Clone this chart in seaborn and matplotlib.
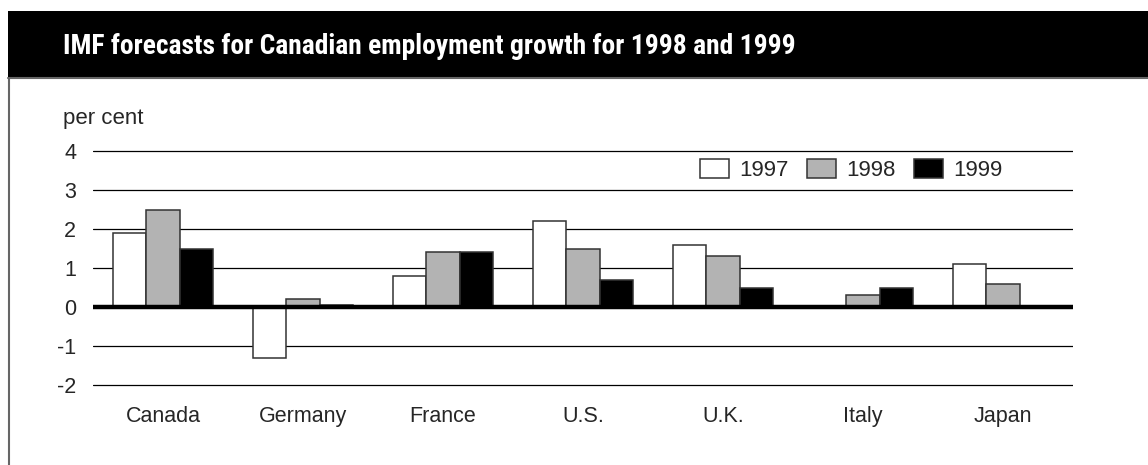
import numpy as np
import pandas as pd
import matplotlib
matplotlib.use("Agg")
import matplotlib.pyplot as plt
from matplotlib import font_manager as fm
from matplotlib.patches import Rectangle
from matplotlib.lines import Line2D
import seaborn as sns

countries = ["Canada", "Germany", "France", "U.S.", "U.K.", "Italy", "Japan"]
years = ["1997", "1998", "1999"]
v1997 = [1.9, -1.3, 0.8, 2.2, 1.6, np.nan, 1.1]
v1998 = [2.5, 0.2, 1.4, 1.5, 1.3, 0.3, 0.6]
v1999 = [1.5, 0.05, 1.4, 0.7, 0.5, 0.5, np.nan]
yticks = [-2, -1, 0, 1, 2, 3, 4]
title = "IMF forecasts for Canadian employment growth for 1998 and 1999"
ylabel = "per cent"

df = pd.DataFrame({
    "country": countries * 3,
    "year": [years[0]] * 7 + [years[1]] * 7 + [years[2]] * 7,
    "value": v1997 + v1998 + v1999,
})

sns.set_theme(style="white")
names = {f.name for f in fm.fontManager.ttflist}
base = "Liberation Sans" if "Liberation Sans" in names else "DejaVu Sans"
plt.rcParams["font.family"] = [base, "DejaVu Sans"]

TITLE_SIZE = 19.8
# Pick a condensed bold face for the title if one is installed
title_prop = None
for cand in ["Liberation Sans Narrow", "Roboto Condensed", "Open Sans Condensed",
             "Noto Sans Condensed", "DejaVu Sans Condensed", "Arial Narrow"]:
    if cand in names:
        title_prop = fm.FontProperties(family=cand, weight="bold", size=TITLE_SIZE)
        break
if title_prop is None:
    cond = [f for f in fm.fontManager.ttflist
            if str(f.stretch) in ("condensed", "semi-condensed", "extra-condensed")
            and f.weight in ("bold", 700, "semibold", 600) and f.style == "normal"
            and "Mono" not in f.name and "Serif" not in f.name]
    if cond:
        title_prop = fm.FontProperties(fname=cond[0].fname, size=TITLE_SIZE)
if title_prop is None:
    title_prop = fm.FontProperties(family=[base, "DejaVu Sans"], weight="bold", size=18)

W, H = 1148, 465
fig = plt.figure(figsize=(W / 100, H / 100), dpi=100)
fig.patch.set_facecolor("white")

# Header band
fig.patches.append(Rectangle((8 / W, 1 - 78 / H), 1 - 8 / W, 67 / H,
                             transform=fig.transFigure, facecolor="black",
                             edgecolor="none", zorder=0))
fig.lines.append(Line2D([8 / W, 1], [1 - 78 / H, 1 - 78 / H], transform=fig.transFigure,
                        color="#666666", lw=1.5))
fig.lines.append(Line2D([8.5 / W, 8.5 / W], [0, 1 - 78 / H], transform=fig.transFigure,
                        color="#666666", lw=1.5))
fig.text(63 / W, 1 - 46 / H, title, color="white", fontproperties=title_prop,
         va="center", ha="left")

ylo, yhi = -2.05, 4.05
px_per_unit = 39.0
top_px = 151 - (yhi - 4) * px_per_unit
bot_px = 385 + (-2 - ylo) * px_per_unit
ax = fig.add_axes([93 / W, 1 - bot_px / H, (1073 - 93) / W, (bot_px - top_px) / H])

palette = {"1997": "white", "1998": "#b3b3b3", "1999": "black"}
sns.barplot(data=df, x="country", y="value", hue="year", hue_order=years,
            order=countries, palette=palette, width=0.72, edgecolor="#333333",
            linewidth=1.1, saturation=1, ax=ax, zorder=3)

for t in yticks:
    if t == 0:
        continue
    ax.axhline(t, color="black", lw=0.9, zorder=1)
ax.axhline(0, color="black", lw=3.2, zorder=5)

ax.set_ylim(ylo, yhi)
ax.set_xlim(-0.5, len(countries) - 0.5)
ax.set_yticks(yticks)
ax.set_yticklabels([str(t) for t in yticks], fontsize=15.5)
ax.tick_params(axis="y", length=0, pad=12)
ax.tick_params(axis="x", length=0, pad=14, labelsize=15.5)
ax.set_xlabel("")
ax.set_ylabel("")
for s in ax.spines.values():
    s.set_visible(False)
ax.set_facecolor("none")

handles, labels = ax.get_legend_handles_labels()
ax.get_legend().remove()
fig.legend(handles, labels, loc="center left", bbox_to_anchor=(700 / W, 1 - 170 / H),
           ncol=3, frameon=False, fontsize=16, handlelength=1.3, handleheight=0.95,
           handletextpad=0.45, columnspacing=0.85, borderpad=0, borderaxespad=0)

fig.text(63 / W, 1 - 124 / H, ylabel, fontsize=16, va="baseline", ha="left")

fig.savefig("out.png", dpi=100)
